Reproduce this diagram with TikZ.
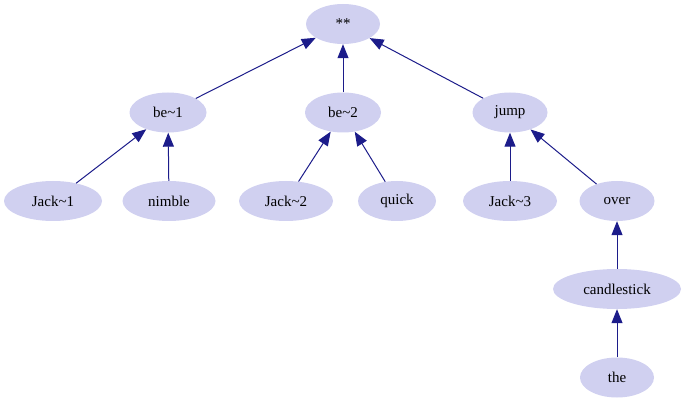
\documentclass[tikz,border=0pt]{standalone}
\usepackage{fontspec}
\setmainfont{Liberation Serif}
\usetikzlibrary{shapes.geometric,arrows.meta}
\definecolor{nodofill}{RGB}{208,208,240}
\definecolor{arcocol}{RGB}{28,28,138}
\tikzset{
  nodo/.style={ellipse, fill=nodofill, inner sep=0pt, minimum height=40pt,
    font=\fontsize{15}{18}\selectfont},
  arco/.style={-{Triangle[length=14pt,width=11pt]}, draw=arcocol, line width=1pt}
}
\begin{document}
\begin{tikzpicture}[x=1pt, y=-1pt]
    \useasboundingbox (0,0) rectangle (687,403);
    % Radice
    \node[nodo, minimum width=74pt] (radice) at (343,24) {**};

    % Primo livello
    \node[nodo, minimum width=77pt] (be1) at (168,112.5) {be\textasciitilde{}1};
    \node[nodo, minimum width=76pt] (be2) at (343,112.5) {be\textasciitilde{}2};
    \node[nodo, minimum width=75pt] (jump) at (510,112.5) {jump};

    % Secondo livello
    \node[nodo, minimum width=98pt] (jack1) at (53,201) {Jack\textasciitilde{}1};
    \node[nodo, minimum width=93pt] (nimble) at (169,201) {nimble};
    \node[nodo, minimum width=94pt] (jack2) at (286,201) {Jack\textasciitilde{}2};
    \node[nodo, minimum width=78pt] (quick) at (397,201) {quick};
    \node[nodo, minimum width=94pt] (jack3) at (510,201) {Jack\textasciitilde{}3};
    \node[nodo, minimum width=75pt] (over) at (617,201) {over};

    % Ramo sotto over
    \node[nodo, minimum width=128pt] (candlestick) at (617,289) {candlestick};
    \node[nodo, minimum width=74pt] (the) at (617,377.5) {the};

    % Archi (dal figlio al padre)
    \draw[arco] (be1) -- (radice);
    \draw[arco] (be2) -- (radice);
    \draw[arco] (jump) -- (radice);
    \draw[arco] (jack1) -- (be1);
    \draw[arco] (nimble) -- (be1);
    \draw[arco] (jack2) -- (be2);
    \draw[arco] (quick) -- (be2);
    \draw[arco] (jack3) -- (jump);
    \draw[arco] (over) -- (jump);
    \draw[arco] (candlestick) -- (over);
    \draw[arco] (the) -- (candlestick);
\end{tikzpicture}
\end{document}
